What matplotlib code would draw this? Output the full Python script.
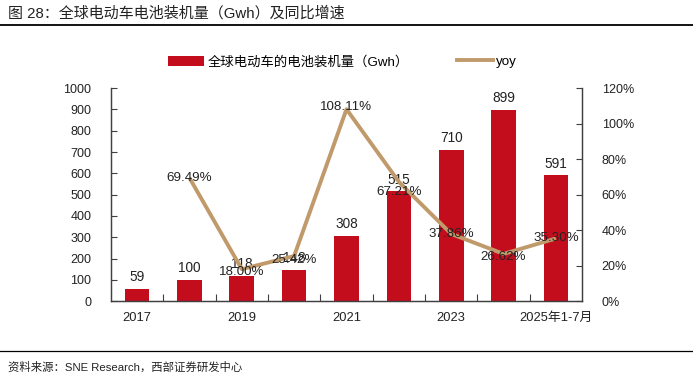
import matplotlib
matplotlib.use("Agg")
import matplotlib.pyplot as plt
from matplotlib.patches import Patch
from matplotlib.lines import Line2D

plt.rcParams['font.family'] = ['Liberation Sans', 'Noto Sans CJK SC', 'DejaVu Sans']

categories = ['2017', '2018', '2019', '2020', '2021', '2022', '2023', '2024', '2025年1-7月']
capacity = [59, 100, 118, 148, 308, 515, 710, 899, 591]
yoy = [None, 69.49, 18.00, 25.42, 108.11, 67.21, 37.86, 26.62, 35.30]
tick_labels = ['2017', '', '2019', '', '2021', '', '2023', '', '2025年1-7月']

bar_color = '#C30D1D'
line_color = '#C09A6B'
spine_color = '#404040'

fig = plt.figure(figsize=(6.93, 3.75), dpi=100)
ax = fig.add_axes([0.160, 0.197, 0.680, 0.568])
ax2 = ax.twinx()

x = list(range(len(categories)))
ax.bar(x, capacity, width=0.47, color=bar_color, zorder=2)
ax.set_ylim(0, 1000)
ax.set_xlim(-0.5, len(categories) - 0.5)
ax.set_yticks(range(0, 1001, 100))

# bar value labels
for xi, v in zip(x, capacity):
    ax.text(xi, v + 22, f"{v}", ha='center', va='bottom', fontsize=9.8, color='#222222', zorder=5)

# yoy line
lx = [xi for xi, v in zip(x, yoy) if v is not None]
ly = [v for v in yoy if v is not None]
ax2.plot(lx, ly, color=line_color, linewidth=2.8, zorder=3, solid_capstyle='butt')
ax2.set_ylim(0, 120)
ax2.set_yticks(range(0, 121, 20))
ax2.set_yticklabels([f"{t}%" for t in range(0, 121, 20)])

label_offsets = [0, 0, -1.5, -2.5, 1, -5.5, 0, -2, 0]
for xi, v, off in zip(x, yoy, label_offsets):
    if v is None:
        continue
    ax2.text(xi, v + off, f"{v:.2f}%", ha='center', va='center', fontsize=9.6,
             color='#222222', zorder=6)

ax2.set_zorder(ax.get_zorder() + 1)
ax2.patch.set_visible(False)

# x ticks at category boundaries, labels every other category
ax.set_xticks([i + 0.5 for i in range(len(categories) - 1)])
ax.set_xticklabels([])
ax.set_xticks(x, minor=True)
ax.set_xticklabels(tick_labels, minor=True)
ax.tick_params(axis='x', which='major', direction='in', length=5, color=spine_color)
ax.tick_params(axis='x', which='minor', length=0, pad=8, labelsize=9.3, labelcolor='#222222')
ax.tick_params(axis='y', direction='in', length=4, color=spine_color, labelsize=9,
               labelcolor='#222222', pad=14)
ax2.tick_params(axis='y', direction='in', length=4, color=spine_color, labelsize=9,
                labelcolor='#222222', pad=14)

for a in (ax, ax2):
    a.spines['top'].set_visible(False)
    for s in ('left', 'right', 'bottom'):
        a.spines[s].set_color(spine_color)
        a.spines[s].set_linewidth(0.9)

# legend
handles = [Patch(facecolor=bar_color, edgecolor='none'),
           Line2D([0], [0], color=line_color, linewidth=2.8)]
fig.legend(handles, ['全球电动车的电池装机量（Gwh）', 'yoy'], loc='center',
           bbox_to_anchor=(0.494, 0.835), ncol=2, frameon=False, fontsize=9.6,
           handlelength=2.7, handleheight=0.8, columnspacing=3.6, handletextpad=0.25)

# title and source
fig.text(0.012, 0.965, '图 28：全球电动车电池装机量（Gwh）及同比增速', fontsize=10.8,
         ha='left', va='center', color='#222222')
fig.add_artist(Line2D([0.0, 1.0], [0.933, 0.933], color='black', linewidth=1.3,
                      transform=fig.transFigure))
fig.add_artist(Line2D([0.0, 1.0], [0.063, 0.063], color='black', linewidth=0.9,
                      transform=fig.transFigure))
fig.text(0.012, 0.022, '资料来源：SNE Research，西部证券研发中心', fontsize=8.2,
         ha='left', va='center', color='#222222')

fig.savefig('out.png', dpi=100)
